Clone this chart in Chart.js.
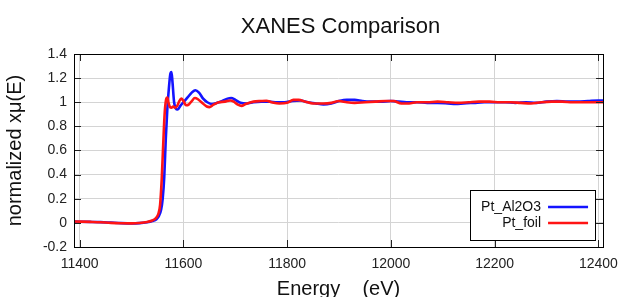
<!DOCTYPE html>
<html>
<head>
<meta charset="utf-8">
<script src="https://cdn.jsdelivr.net/npm/chart.js@4.4.1/dist/chart.umd.min.js"></script>
<style>
html,body{margin:0;padding:0;background:#fff;}
#wrap{width:627px;height:297px;position:relative;}
</style>
</head>
<body>
<div id="wrap"><canvas id="c" width="627" height="297"></canvas></div>
<script>
const titleText = "XANES Comparison";
const xTitle = "Energy    (eV)";
const yTitle = "normalized x\u03BC(E)";
const seriesNames = ["Pt_Al2O3", "Pt_foil"];
const xTicks = [11400, 11600, 11800, 12000, 12200, 12400];
const yTicks = [-0.2, 0, 0.2, 0.4, 0.6, 0.8, 1, 1.2, 1.4];

const energyAl2O3 = [11390,11420,11440,11460,11480,11500,11515,11530,11540,11548,11553,11557,11560,11563,11566,11569,11572,11575,11577,11579,11582,11585,11589,11594,11600,11608,11616,11623,11630,11638,11646,11655,11665,11675,11685,11692,11700,11710,11722,11735,11750,11765,11780,11795,11810,11825,11840,11855,11870,11885,11900,11915,11930,11945,11960,11980,12000,12015,12030,12050,12070,12090,12110,12125,12140,12160,12180,12200,12220,12240,12260,12280,12300,12320,12340,12360,12380,12400,12409];
const valuesAl2O3 = [0.010,0.008,0.006,0.002,-0.002,-0.004,-0.002,0.005,0.015,0.03,0.06,0.11,0.20,0.38,0.70,0.95,1.12,1.24,1.25,1.16,1.00,0.95,0.94,0.97,1.00,1.04,1.08,1.10,1.08,1.03,1.00,0.985,0.995,1.01,1.03,1.035,1.02,0.995,0.99,1.00,1.005,1.005,1.00,1.00,1.01,1.015,1.00,0.99,0.982,0.99,1.01,1.02,1.02,1.01,1.005,1.005,1.01,1.005,1.00,1.00,0.995,0.995,0.99,0.985,0.99,0.995,1.00,1.00,1.00,0.995,1.00,0.995,1.005,1.01,1.005,1.005,1.01,1.015,1.015];

const energyFoil = [11390,11420,11440,11460,11480,11500,11515,11530,11540,11547,11552,11555,11558,11561,11564,11567,11569,11571,11574,11577,11580,11584,11588,11592,11596,11600,11605,11610,11616,11622,11628,11636,11645,11650,11658,11668,11680,11690,11697,11705,11712,11720,11735,11750,11760,11770,11785,11800,11812,11822,11835,11850,11870,11885,11900,11915,11930,11950,11970,11990,12005,12020,12035,12050,12070,12090,12110,12130,12150,12170,12190,12210,12230,12250,12270,12290,12310,12330,12350,12370,12390,12409];
const valuesFoil = [0.012,0.008,0.005,0.0,-0.003,-0.004,-0.001,0.008,0.02,0.04,0.08,0.15,0.35,0.65,0.92,1.03,1.04,1.00,0.96,0.955,0.965,0.955,0.97,1.01,1.03,1.01,0.975,0.98,1.01,1.035,1.025,0.995,0.965,0.96,0.98,1.00,1.005,1.015,1.005,0.98,0.97,0.985,1.005,1.01,1.012,1.00,0.99,0.995,1.02,1.02,1.005,0.99,0.99,0.995,1.01,1.00,0.995,1.00,1.005,1.01,1.01,0.99,0.99,1.00,1.00,1.005,1.00,0.995,1.00,1.005,1.005,1.00,1.00,0.995,0.99,1.00,1.005,1.005,1.00,1.00,1.00,1.00];

const colors = ["#1414ff", "#ff1414"];
const xMin = 11389, xMax = 12409, yMin = -0.2, yMax = 1.4;

function pts(xs, ys){ return xs.map((x,i)=>({x:x, y:ys[i]})); }

const FONT = "'Liberation Sans', Arial, sans-serif";

const decor = {
  id: 'decor',
  afterDraw(chart){
    const ctx = chart.ctx;
    const a = chart.chartArea;
    const xs = chart.scales.x, ys = chart.scales.y;
    ctx.save();
    ctx.strokeStyle = '#222';
    ctx.lineWidth = 1;
    ctx.beginPath();
    xTicks.forEach(v=>{
      const px = Math.round(xs.getPixelForValue(v)) + 0.5;
      ctx.moveTo(px, a.bottom); ctx.lineTo(px, a.bottom - 7);
      ctx.moveTo(px, a.top); ctx.lineTo(px, a.top + 7);
    });
    yTicks.forEach(v=>{
      const py = Math.round(ys.getPixelForValue(v)) + 0.5;
      ctx.moveTo(a.left, py); ctx.lineTo(a.left + 7, py);
      ctx.moveTo(a.right, py); ctx.lineTo(a.right - 7, py);
    });
    ctx.stroke();
    ctx.strokeStyle = '#000';
    ctx.lineWidth = 1;
    ctx.strokeRect(Math.round(a.left)+0.5, Math.round(a.top)+0.5, Math.round(a.right-a.left), Math.round(a.bottom-a.top));
    ctx.fillStyle = '#111';
    ctx.textAlign = 'center';
    ctx.textBaseline = 'alphabetic';
    ctx.font = '22px ' + FONT;
    const cx = (a.left + a.right)/2;
    ctx.fillText(titleText, cx + 2, 33);
    ctx.font = '20px ' + FONT;
    ctx.fillText(xTitle, cx, 295);
    ctx.save();
    ctx.translate(21, (a.top + a.bottom)/2);
    ctx.rotate(-Math.PI/2);
    ctx.fillText(yTitle, 0, 0);
    ctx.restore();
    const bx = a.right - 133, by = a.top + 136, bw = 125, bh = 50;
    ctx.fillStyle = '#fff';
    ctx.fillRect(bx, by, bw, bh);
    ctx.strokeStyle = '#000';
    ctx.lineWidth = 1;
    ctx.strokeRect(Math.round(bx)+0.5, Math.round(by)+0.5, bw, bh);
    ctx.font = '14px ' + FONT;
    ctx.textAlign = 'right';
    ctx.textBaseline = 'middle';
    seriesNames.forEach((n,i)=>{
      const ry = by + 17 + i*16;
      ctx.fillStyle = '#111';
      ctx.fillText(n, bx + 71, ry);
      ctx.strokeStyle = colors[i];
      ctx.lineWidth = 2.5;
      ctx.beginPath();
      ctx.moveTo(bx + 78, ry); ctx.lineTo(bx + 118, ry);
      ctx.stroke();
    });
    ctx.restore();
  }
};

new Chart(document.getElementById('c'), {
  type: 'line',
  data: {
    datasets: [
      { label: seriesNames[0], data: pts(energyAl2O3, valuesAl2O3), borderColor: colors[0], borderWidth: 2.6, pointRadius: 0, cubicInterpolationMode: 'monotone', order: 1 },
      { label: seriesNames[1], data: pts(energyFoil, valuesFoil), borderColor: colors[1], borderWidth: 2.6, pointRadius: 0, cubicInterpolationMode: 'monotone', order: 0 }
    ]
  },
  options: {
    responsive: false,
    animation: false,
    devicePixelRatio: 1,
    layout: { padding: { top: 54, right: 18, left: 0, bottom: 0 } },
    plugins: { legend: { display: false }, title: { display: false }, tooltip: { enabled: false } },
    scales: {
      x: {
        type: 'linear', min: xMin, max: xMax,
        afterFit(s){ s.height = 50; },
        afterBuildTicks(s){ s.ticks = xTicks.map(v=>({value:v})); },
        ticks: { font: { size: 14, family: FONT }, color: '#222', padding: 9, maxRotation: 0, autoSkip: false, callback: v => String(v) },
        grid: { color: '#d4d4d4', lineWidth: 1, drawTicks: false },
        border: { display: false }
      },
      y: {
        type: 'linear', min: yMin, max: yMax,
        afterFit(s){ s.width = 74; },
        afterBuildTicks(s){ s.ticks = yTicks.map(v=>({value:v})); },
        ticks: { font: { size: 14, family: FONT }, color: '#222', padding: 7, callback: v => String(Math.round(v*10)/10) },
        grid: { color: '#d4d4d4', lineWidth: 1, drawTicks: false },
        border: { display: false }
      }
    }
  },
  plugins: [decor]
});
</script>
</body>
</html>
